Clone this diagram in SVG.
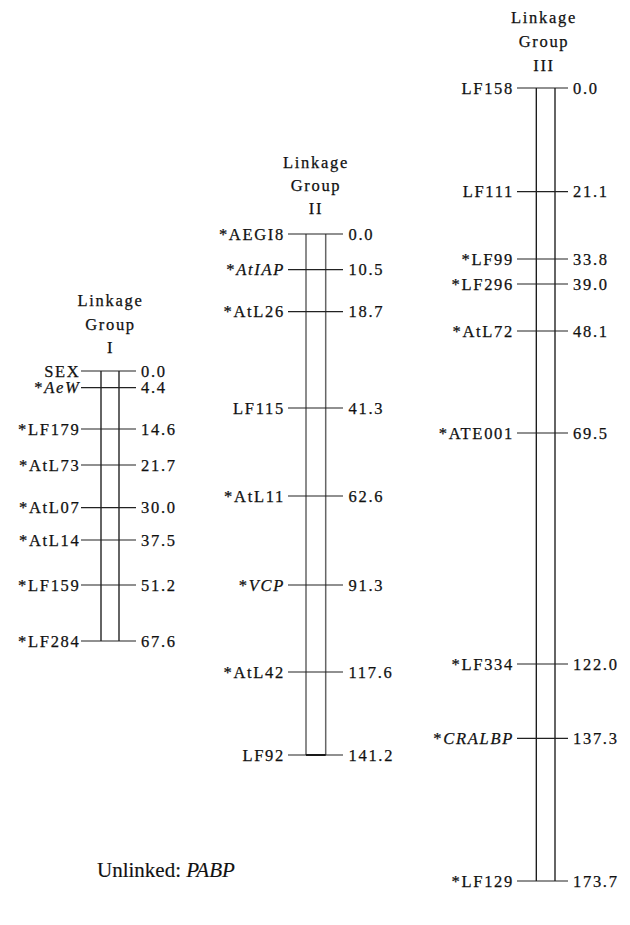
<svg xmlns="http://www.w3.org/2000/svg" width="630" height="925" viewBox="0 0 630 925" font-family="Liberation Serif, serif">
<style>
text{font-size:16.5px;fill:#111;stroke:#111;stroke-width:0.25px;letter-spacing:1.7px}
.l{text-anchor:end}
.t{text-anchor:middle}
.i{font-style:italic}
.chr{fill:none;stroke:#111;stroke-width:1.3}
.chr2{fill:none;stroke:#666;stroke-width:1.5}
.tk{stroke:#222;stroke-width:1.2}
.u{font-size:21px;letter-spacing:0;stroke-width:0.15px}
</style>
<rect width="630" height="925" fill="#fff"/>
<g id="group-I" font-family="Liberation Serif, serif">
<text class="t" x="110.5" y="306">Linkage</text>
<text class="t" x="110.5" y="329.5">Group</text>
<text class="t" x="110.5" y="352.5">I</text>
<line class="chr" x1="101" y1="371" x2="101" y2="641"/>
<line class="chr" x1="119" y1="371" x2="119" y2="641"/>
<g class="tk">
<line x1="81" y1="371" x2="136" y2="371"/>
<line x1="81" y1="387.7" x2="136" y2="387.7"/>
<line x1="81" y1="429" x2="136" y2="429"/>
<line x1="81" y1="465" x2="136" y2="465"/>
<line x1="81" y1="507.7" x2="136" y2="507.7"/>
<line x1="81" y1="540" x2="136" y2="540"/>
<line x1="81" y1="585" x2="136" y2="585"/>
<line x1="81" y1="641" x2="136" y2="641"/>
</g>
<text class="l" x="80.5" y="376.5">SEX</text>
<text class="l" x="80.5" y="392.5">*<tspan class="i">AeW</tspan></text>
<text class="l" x="80.5" y="434.5">*LF179</text>
<text class="l" x="80.5" y="470.5">*AtL73</text>
<text class="l" x="80.5" y="513">*AtL07</text>
<text class="l" x="80.5" y="545.5">*AtL14</text>
<text class="l" x="80.5" y="590.5">*LF159</text>
<text class="l" x="80.5" y="646.5">*LF284</text>
<text x="141" y="376.5">0.0</text>
<text x="141" y="392.5">4.4</text>
<text x="141" y="434.5">14.6</text>
<text x="141" y="470.5">21.7</text>
<text x="141" y="513">30.0</text>
<text x="141" y="545.5">37.5</text>
<text x="141" y="590.5">51.2</text>
<text x="141" y="646.5">67.6</text>
</g>
<g id="group-II" font-family="Liberation Serif, serif">
<text class="t" x="316" y="167.5">Linkage</text>
<text class="t" x="316" y="191">Group</text>
<text class="t" x="316" y="214">II</text>
<line class="chr2" x1="306" y1="234" x2="306" y2="755"/>
<line class="chr2" x1="325.7" y1="234" x2="325.7" y2="755"/>
<line x1="306" y1="755" x2="325.7" y2="755" stroke="#111" stroke-width="2"/>
<g class="tk">
<line x1="288" y1="234" x2="343" y2="234"/>
<line x1="288" y1="269.7" x2="343" y2="269.7"/>
<line x1="288" y1="311.7" x2="343" y2="311.7"/>
<line x1="288" y1="408" x2="343" y2="408"/>
<line x1="288" y1="496" x2="343" y2="496"/>
<line x1="288" y1="585" x2="343" y2="585"/>
<line x1="288" y1="672" x2="343" y2="672"/>
<line x1="288" y1="755" x2="343" y2="755"/>
</g>
<text class="l" x="285" y="239.5">*AEGI8</text>
<text class="l" x="285" y="275">*<tspan class="i">AtIAP</tspan></text>
<text class="l" x="285" y="317">*AtL26</text>
<text class="l" x="285" y="413.5">LF115</text>
<text class="l" x="285" y="501.5">*AtL11</text>
<text class="l" x="285" y="590.5">*<tspan class="i">VCP</tspan></text>
<text class="l" x="285" y="677.5">*AtL42</text>
<text class="l" x="285" y="760.5">LF92</text>
<text x="348.5" y="239.5">0.0</text>
<text x="348.5" y="275">10.5</text>
<text x="348.5" y="317">18.7</text>
<text x="348.5" y="413.5">41.3</text>
<text x="348.5" y="501.5">62.6</text>
<text x="348.5" y="590.5">91.3</text>
<text x="348.5" y="677.5">117.6</text>
<text x="348.5" y="760.5">141.2</text>
</g>
<g id="group-III" font-family="Liberation Serif, serif">
<text class="t" x="544" y="23">Linkage</text>
<text class="t" x="544" y="46.5">Group</text>
<text class="t" x="544" y="70.5">III</text>
<line class="chr" x1="536.3" y1="88" x2="536.3" y2="881"/>
<line class="chr" x1="555" y1="88" x2="555" y2="881"/>
<g class="tk">
<line x1="517" y1="88" x2="568" y2="88"/>
<line x1="517" y1="191.7" x2="568" y2="191.7"/>
<line x1="517" y1="259" x2="568" y2="259"/>
<line x1="517" y1="284" x2="568" y2="284"/>
<line x1="517" y1="331" x2="568" y2="331"/>
<line x1="517" y1="433" x2="568" y2="433"/>
<line x1="517" y1="664" x2="568" y2="664"/>
<line x1="517" y1="738.3" x2="568" y2="738.3"/>
<line x1="517" y1="881" x2="568" y2="881"/>
</g>
<text class="l" x="514" y="93.5">LF158</text>
<text class="l" x="514" y="197">LF111</text>
<text class="l" x="514" y="264.5">*LF99</text>
<text class="l" x="514" y="289.5">*LF296</text>
<text class="l" x="514" y="336.5">*AtL72</text>
<text class="l" x="514" y="438.5">*ATE001</text>
<text class="l" x="514" y="669.5">*LF334</text>
<text class="l" x="514" y="743.5">*<tspan class="i">CRALBP</tspan></text>
<text class="l" x="514" y="886.5">*LF129</text>
<text x="573" y="93.5">0.0</text>
<text x="573" y="197">21.1</text>
<text x="573" y="264.5">33.8</text>
<text x="573" y="289.5">39.0</text>
<text x="573" y="336.5">48.1</text>
<text x="573" y="438.5">69.5</text>
<text x="573" y="669.5">122.0</text>
<text x="573" y="743.5">137.3</text>
<text x="573" y="886.5">173.7</text>
</g>
<g id="unlinked" font-family="Liberation Serif, serif">
<text class="u" x="97" y="876.5">Unlinked: <tspan class="i">PABP</tspan></text>
</g>
<g id="connectors"/>
</svg>
